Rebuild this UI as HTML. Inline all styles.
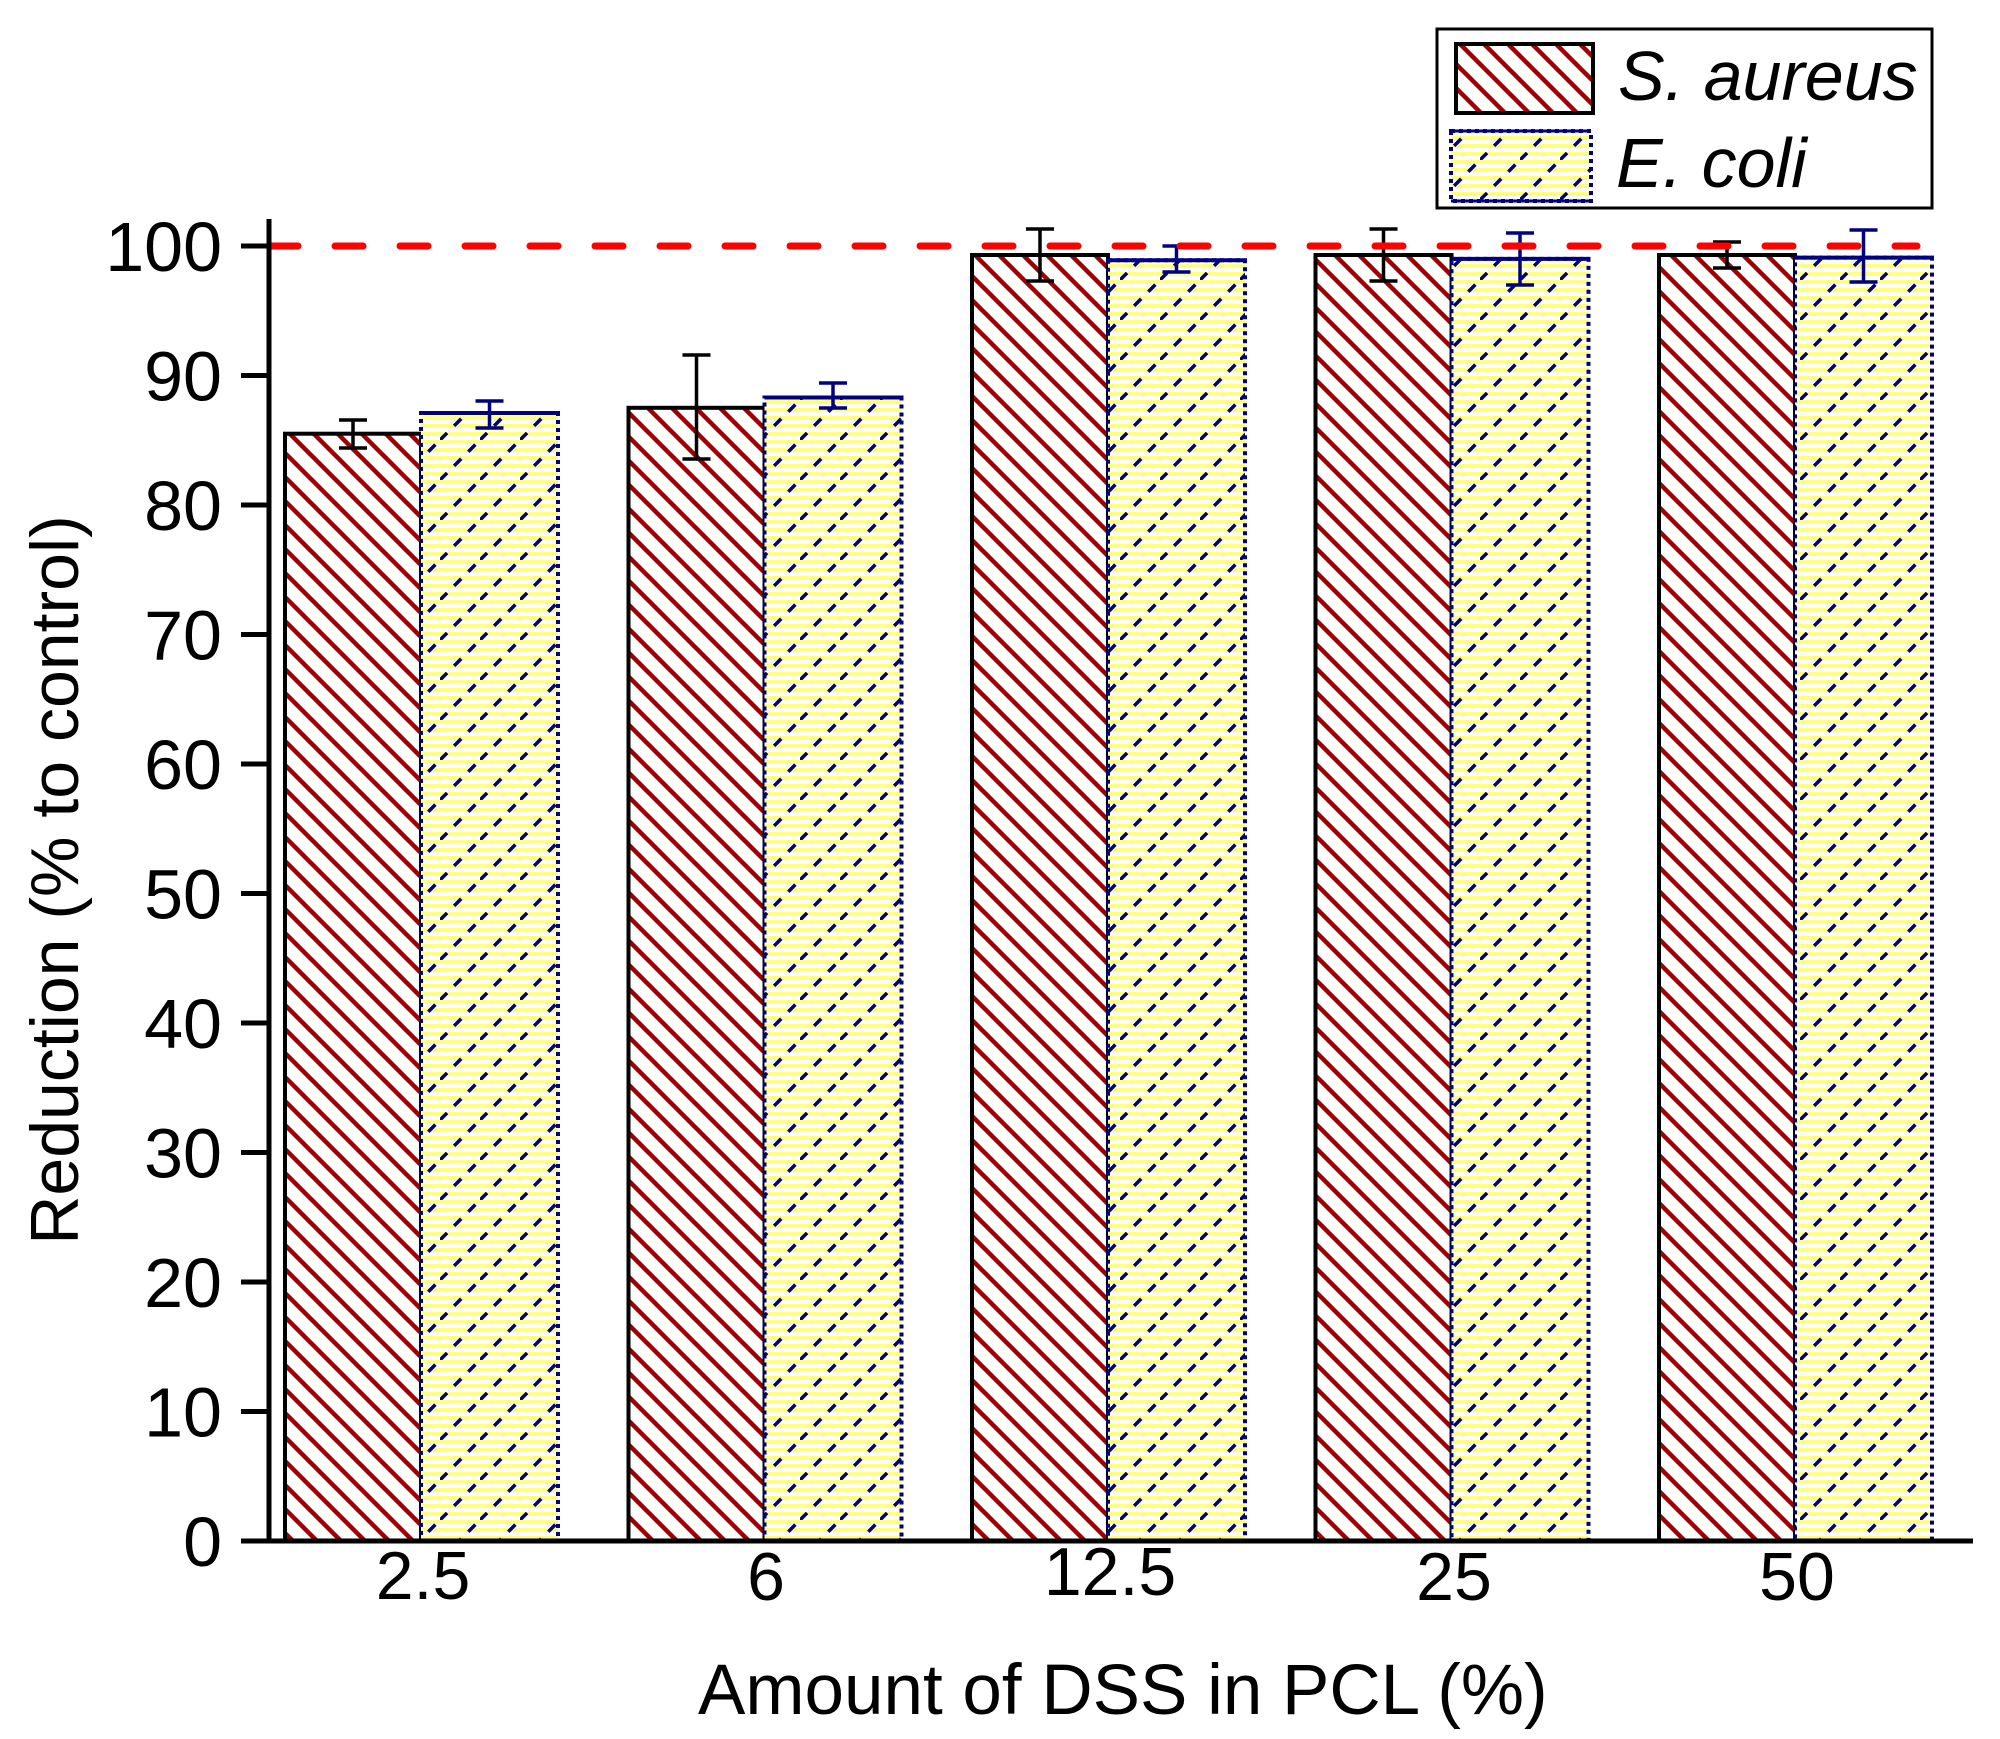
<!DOCTYPE html>
<html><head><meta charset="utf-8"><style>html,body{margin:0;padding:0;background:#fff}svg{display:block}</style></head>
<body>
<svg width="2000" height="1739" viewBox="0 0 2000 1739" xmlns="http://www.w3.org/2000/svg" font-family="Liberation Sans, Arial, sans-serif">
<defs>
<pattern id="red" patternUnits="userSpaceOnUse" width="24" height="24">
<rect width="24" height="24" fill="#fff"/>
<path d="M-6,-6 L30,30 M-6,18 L6,30 M18,-6 L30,6" stroke="#a00000" stroke-width="4.5"/>
</pattern>
<pattern id="yel" patternUnits="userSpaceOnUse" width="40" height="40">
<rect width="40" height="40" fill="#fff"/>
<rect y="0" width="40" height="4" fill="#ffff80"/>
<rect y="8" width="40" height="4" fill="#ffff80"/>
<rect y="16" width="40" height="4" fill="#ffff80"/>
<rect y="24" width="40" height="4" fill="#ffff80"/>
<rect y="32" width="40" height="4" fill="#ffff80"/>
<path d="M0,40 L40,0" stroke="#000080" stroke-width="3.5" stroke-dasharray="10 10"/>
</pattern>
</defs>

<g id="bars">
<rect x="285" y="433.7" width="136" height="1107.3" fill="url(#red)" stroke="#000" stroke-width="4"/>
<rect x="421" y="413" width="137" height="1128" fill="url(#yel)" stroke="#000080" stroke-width="4" stroke-dasharray="4 4"/>
<rect x="628.5" y="407.8" width="136" height="1133.2" fill="url(#red)" stroke="#000" stroke-width="4"/>
<rect x="764.5" y="397.5" width="137" height="1143.5" fill="url(#yel)" stroke="#000080" stroke-width="4" stroke-dasharray="4 4"/>
<rect x="972" y="255" width="136" height="1286" fill="url(#red)" stroke="#000" stroke-width="4"/>
<rect x="1108" y="260.2" width="137" height="1280.8" fill="url(#yel)" stroke="#000080" stroke-width="4" stroke-dasharray="4 4"/>
<rect x="1315.5" y="255" width="136" height="1286" fill="url(#red)" stroke="#000" stroke-width="4"/>
<rect x="1451.5" y="258.9" width="137" height="1282.1" fill="url(#yel)" stroke="#000080" stroke-width="4" stroke-dasharray="4 4"/>
<rect x="1659" y="255" width="136" height="1286" fill="url(#red)" stroke="#000" stroke-width="4"/>
<rect x="1795" y="257.6" width="137" height="1283.4" fill="url(#yel)" stroke="#000080" stroke-width="4" stroke-dasharray="4 4"/>
<g stroke="#000080" stroke-width="4">
<line x1="421" y1="413" x2="558" y2="413"/>
<line x1="764.5" y1="397.5" x2="901.5" y2="397.5"/>
<line x1="1108" y1="260.2" x2="1245" y2="260.2"/>
<line x1="1451.5" y1="258.9" x2="1588.5" y2="258.9"/>
<line x1="1795" y1="257.6" x2="1932" y2="257.6"/>
</g>
</g>

<g stroke="#000" stroke-width="3.5" fill="none">
<path d="M353,420 V448 M339,420 H367 M339,448 H367"/>
<path d="M696.5,355 V459 M682.5,355 H710.5 M682.5,459 H710.5"/>
<path d="M1040,229 V281 M1026,229 H1054 M1026,281 H1054"/>
<path d="M1383.5,229 V281 M1369.5,229 H1397.5 M1369.5,281 H1397.5"/>
<path d="M1727,242 V268 M1713,242 H1741 M1713,268 H1741"/>
</g>
<g stroke="#000080" stroke-width="3.5" fill="none">
<path d="M489.5,401 V428 M475.5,401 H503.5 M475.5,428 H503.5"/>
<path d="M833,383 V408 M819,383 H847 M819,408 H847"/>
<path d="M1176.5,246 V272 M1162.5,246 H1190.5 M1162.5,272 H1190.5"/>
<path d="M1520,233 V285 M1506,233 H1534 M1506,285 H1534"/>
<path d="M1863.5,230 V282 M1849.5,230 H1877.5 M1849.5,282 H1877.5"/>
</g>

<line x1="270" y1="246" x2="1917" y2="246" stroke="#ff0000" stroke-width="7" stroke-linecap="round" stroke-dasharray="28 37"/>

<g stroke="#000" stroke-width="5">
<line x1="269" y1="219" x2="269" y2="1543"/>
<line x1="241" y1="1541" x2="1973" y2="1541"/>
<line x1="241" y1="246" x2="269" y2="246"/>
<line x1="241" y1="375.5" x2="269" y2="375.5"/>
<line x1="241" y1="505" x2="269" y2="505"/>
<line x1="241" y1="634.5" x2="269" y2="634.5"/>
<line x1="241" y1="764" x2="269" y2="764"/>
<line x1="241" y1="893.5" x2="269" y2="893.5"/>
<line x1="241" y1="1023" x2="269" y2="1023"/>
<line x1="241" y1="1152.5" x2="269" y2="1152.5"/>
<line x1="241" y1="1282" x2="269" y2="1282"/>
<line x1="241" y1="1411.5" x2="269" y2="1411.5"/>
</g>

<g font-size="70" text-anchor="end" fill="#000">
<text x="222" y="271">100</text>
<text x="222" y="400.5">90</text>
<text x="222" y="530">80</text>
<text x="222" y="659.5">70</text>
<text x="222" y="789">60</text>
<text x="222" y="918.5">50</text>
<text x="222" y="1048">40</text>
<text x="222" y="1177.5">30</text>
<text x="222" y="1307">20</text>
<text x="222" y="1436.5">10</text>
<text x="222" y="1566">0</text>
</g>
<g font-size="68" text-anchor="middle" fill="#000">
<text x="423" y="1599">2.5</text>
<text x="766" y="1600">6</text>
<text x="1110" y="1595">12.5</text>
<text x="1454" y="1600">25</text>
<text x="1797" y="1600">50</text>
</g>
<text x="698" y="1714" font-size="71">Amount of DSS in PCL (%)</text>
<text transform="translate(78,880) rotate(-90)" font-size="68" text-anchor="middle">Reduction (% to control)</text>

<rect x="1437" y="29" width="495" height="179" fill="#fff" stroke="#000" stroke-width="3"/>
<rect x="1456" y="44" width="137" height="69" fill="url(#red)" stroke="#000" stroke-width="4"/>
<rect x="1451" y="131" width="140" height="70" fill="url(#yel)" stroke="#000080" stroke-width="4" stroke-dasharray="4 4"/>
<line x1="1451" y1="131" x2="1591" y2="131" stroke="#000080" stroke-width="3"/>
<line x1="1451" y1="201" x2="1591" y2="201" stroke="#000080" stroke-width="3"/>
<g font-size="70" font-style="italic" fill="#000">
<text x="1618" y="100">S. aureus</text>
<text x="1616" y="187">E. coli</text>
</g>
</svg>
</body></html>
